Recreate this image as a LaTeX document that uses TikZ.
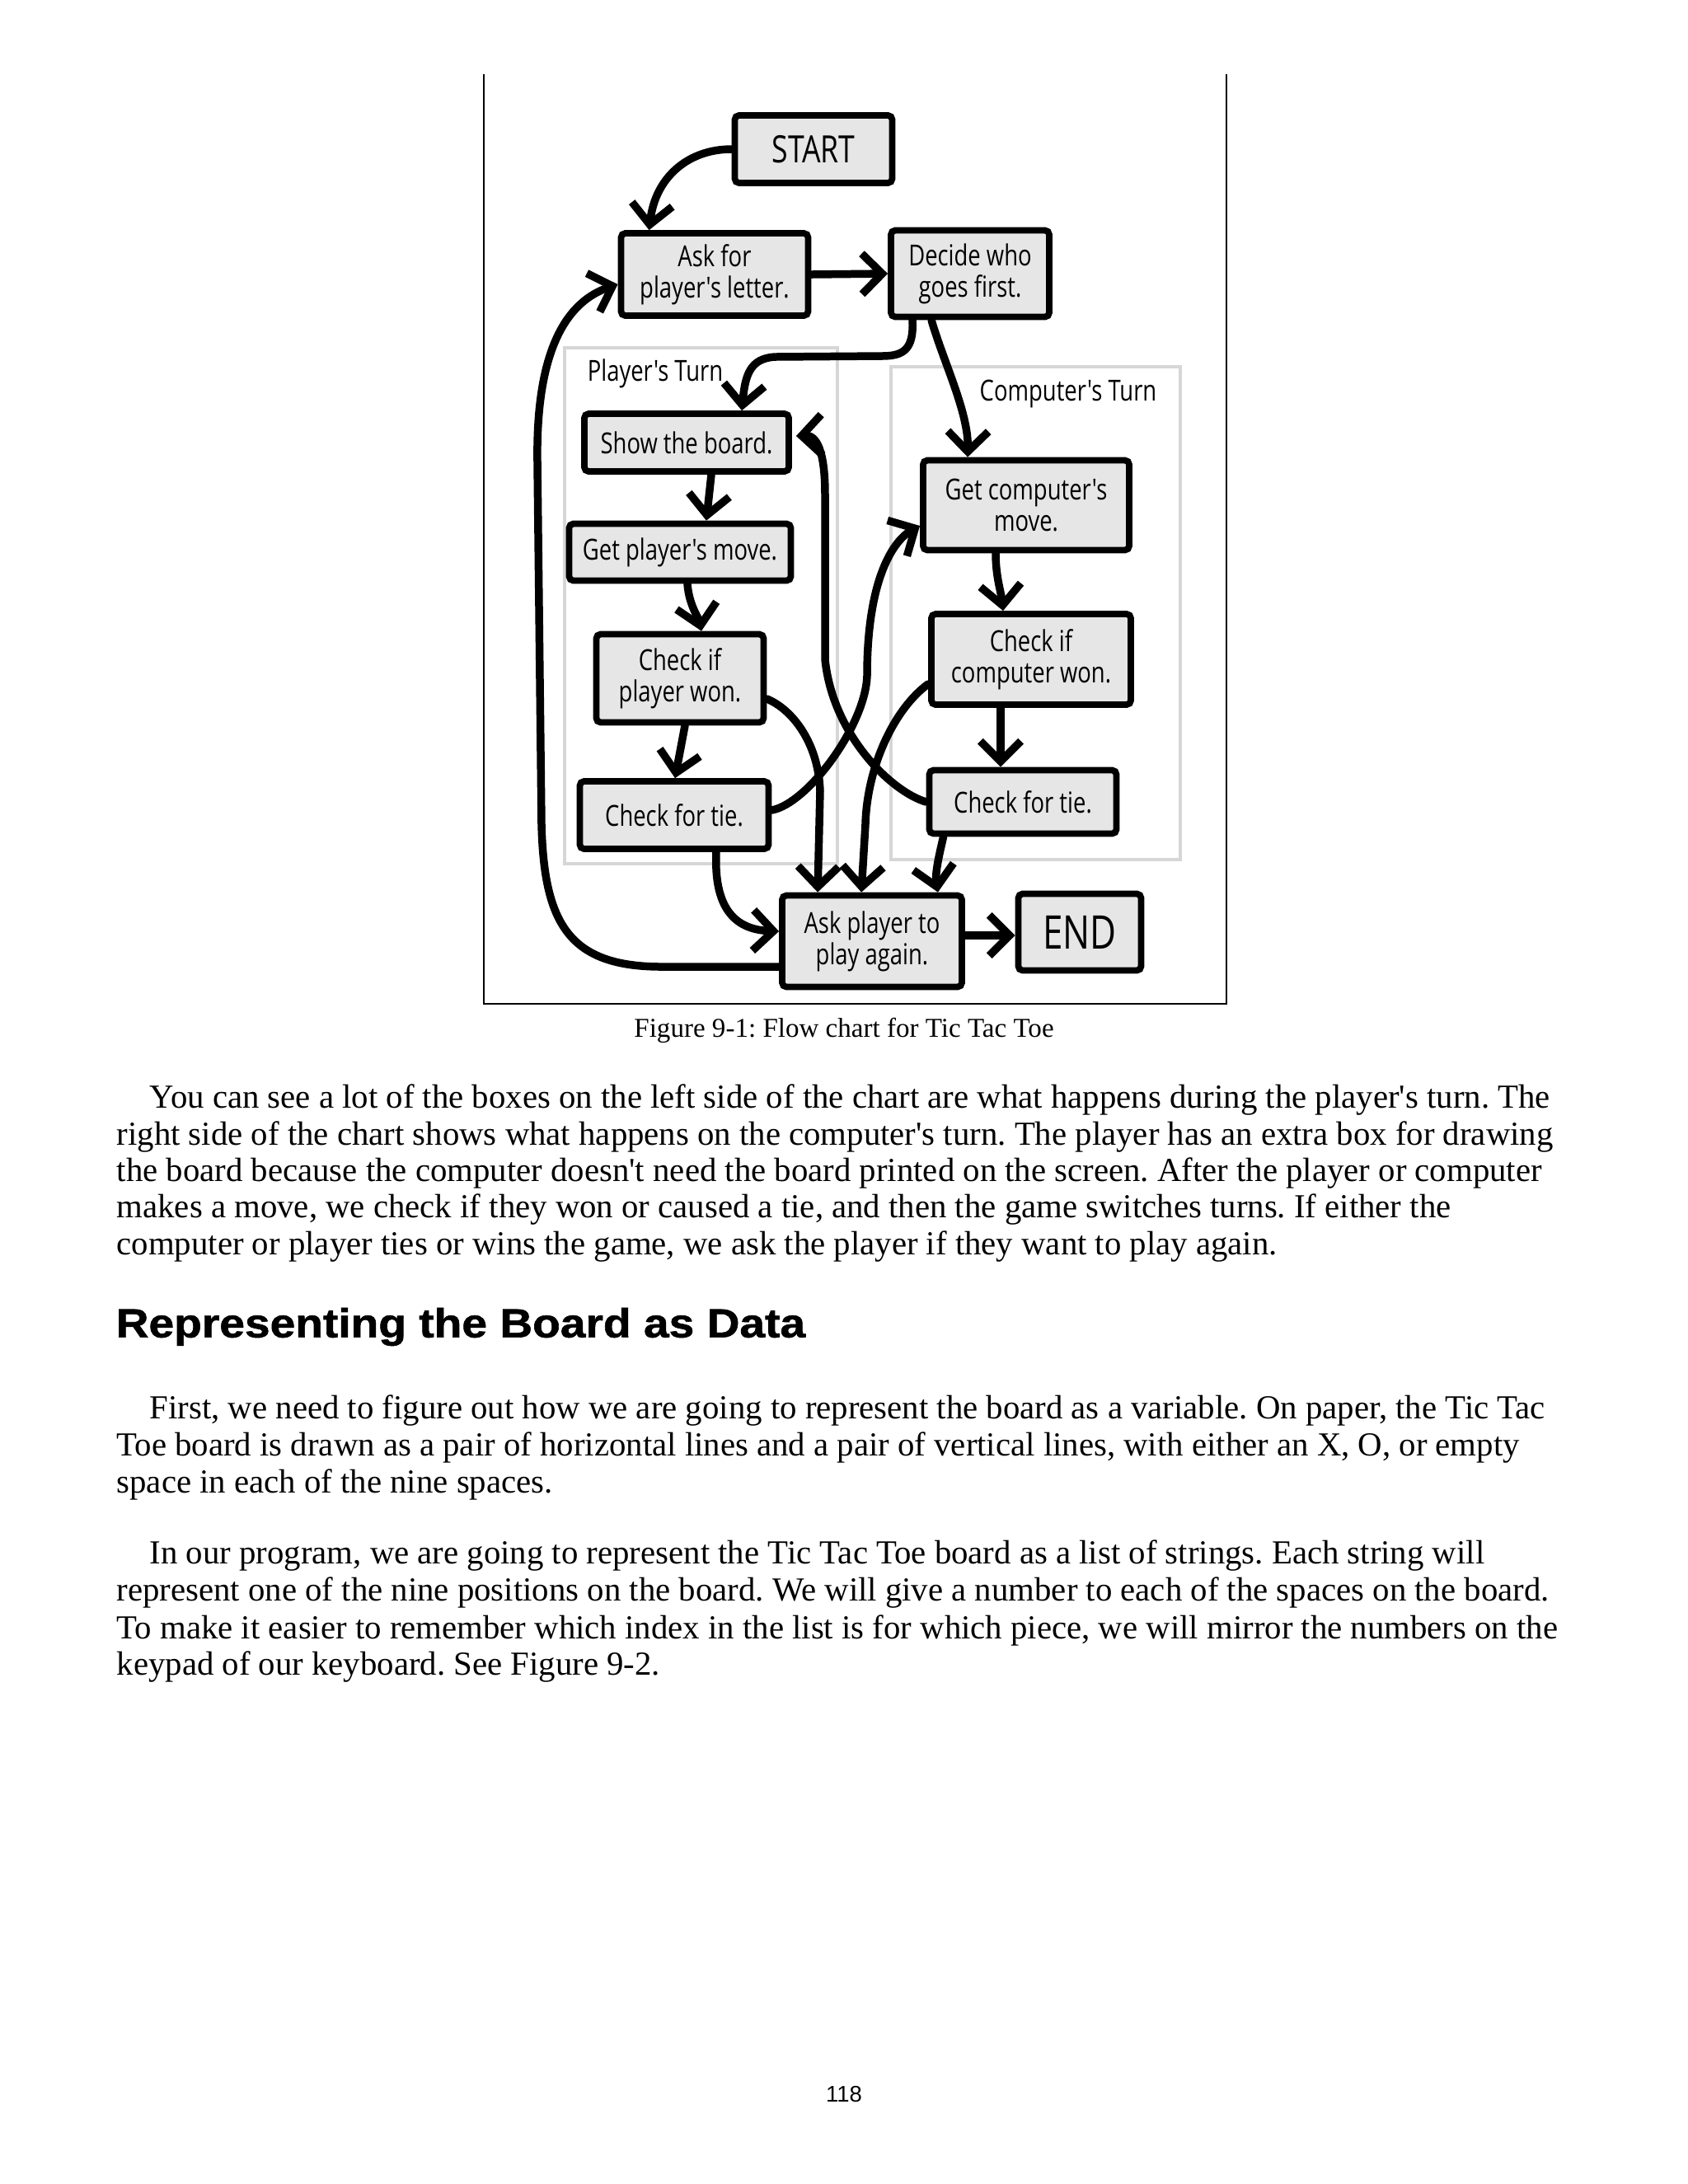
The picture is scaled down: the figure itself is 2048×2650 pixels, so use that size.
\documentclass[tikz,border=0pt]{standalone}
\usepackage{fontspec}
\setmainfont{Liberation Serif}
\newfontfamily\handfont[FakeStretch=0.78]{Open Sans}
\newfontfamily\headfont[FakeStretch=1.12,FakeBold=1.2]{Liberation Sans}
\newfontfamily\numfont{Liberation Sans}
\usetikzlibrary{arrows.meta,calc}
\definecolor{boxgray}{HTML}{E6E6E6}
\definecolor{grpgray}{HTML}{D6D6D6}
\newcommand\ap{\XeTeXglyph\XeTeXglyphindex "quotesingle"\relax}
\frenchspacing
\begin{document}
\begin{tikzpicture}[x=0.01cm,y=-0.01cm,
  box/.style={draw, line width=2.2pt, fill=boxgray, font=\handfont\fontsize{10}{10.8}\selectfont, align=center, inner sep=0pt, rounded corners=1.5pt},
  conn/.style={line width=2.7pt, line cap=round, line join=round, -{Straight Barb[length=7pt,width=14pt]}},
  grp/.style={draw=grpgray, line width=1pt, inner sep=0pt},
  grplabel/.style={font=\handfont\fontsize{10}{11}\selectfont, inner sep=0pt},
  body/.style={anchor=west, inner sep=0pt, font=\fontsize{11.6}{13}\selectfont},
]
\useasboundingbox (0,0) rectangle (2048,2650);
\fill[white] (0,0) rectangle (2048,2650);

% figure frame
\draw[line width=0.7pt] (587,90) -- (587,1218) -- (1488,1218) -- (1488,90);

% groups
\node[grp, minimum width=3.31cm, minimum height=6.26cm] (pgrp) at (850.5,735) {};
\node[grp, minimum width=3.51cm, minimum height=5.98cm] (cgrp) at (1256.5,744) {};
\node[grplabel] (plabel) at (795,453) {Player's Turn};
\node[grplabel] (clabel) at (1296,478) {Computer's Turn};

% boxes
\node[box, minimum width=1.91cm, minimum height=0.82cm, font=\handfont\fontsize{13}{14}\selectfont] (startbox) at (987,181) {START};
\node[box, minimum width=2.27cm, minimum height=1.00cm] (ask) at (867,333) {Ask for\\player's letter.};
\node[box, minimum width=1.92cm, minimum height=1.05cm] (decide) at (1177,332) {Decide who\\goes first.};
\node[box, minimum width=2.48cm, minimum height=0.70cm] (show) at (833,537) {Show the board.};
\node[box, minimum width=2.69cm, minimum height=0.69cm] (getp) at (825,670) {Get player's move.};
\node[box, minimum width=2.03cm, minimum height=1.07cm] (chkp) at (825,823) {Check if\\player won.};
\node[box, minimum width=2.29cm, minimum height=0.82cm] (tiel) at (818,989) {Check for tie.};
\node[box, minimum width=2.50cm, minimum height=1.09cm] (getc) at (1245,613) {Get computer's\\move.};
\node[box, minimum width=2.42cm, minimum height=1.10cm] (chkc) at (1251,800) {Check if\\computer won.};
\node[box, minimum width=2.27cm, minimum height=0.77cm] (tier) at (1241,973) {Check for tie.};
\node[box, minimum width=2.18cm, minimum height=1.11cm] (again) at (1058,1142) {Ask player to\\play again.};
\node[box, minimum width=1.49cm, minimum height=0.93cm, font=\handfont\fontsize{16}{17}\selectfont] (endbox) at (1310,1131) {END};

% connectors
\draw[conn] (startbox.west) .. controls (835,181) and (795,215) .. ($(ask.north west)+(38,0)$);
\draw[conn] (ask.east) -- (decide.west);
\draw[conn] ($(decide.south west)+(30,0)$) .. controls (1109,425) and (1095,432) .. (1070,432) -- (940,433) .. controls (910,435) and (904,455) .. ($(show.north west)+(195,0)$);
\draw[conn] ($(decide.south west)+(53,0)$) .. controls (1145,440) and (1175,500) .. ($(getc.north west)+(58,0)$);
\draw[conn] ($(show.south)+(30,0)$) -- ($(getp.north)+(32,0)$);
\draw[conn] ($(getp.south)+(9,0)$) .. controls (836,735) and (848,750) .. ($(chkp.north)+(26,0)$);
\draw[conn] ($(chkp.south)+(6,0)$) -- ($(tiel.north)+(1,0)$);
\draw[conn] ($(chkp.east)+(0,25)$) .. controls (960,860) and (993,900) .. (995,960) -- ($(again.north west)+(47,0)$);
\draw[conn] ($(tiel.east)+(0,-6)$) .. controls (980,975) and (1050,880) .. (1052,820) .. controls (1052,700) and (1085,655) .. ($(getc.west)+(0,25)$);
\draw[conn] (tier.west) .. controls (1080,960) and (1010,890) .. (1001,800) -- (1001,600) .. controls (1001,545) and (990,528) .. ($(show.east)+(5,-8)$);
\draw[conn] ($(chkc.west)+(0,30)$) .. controls (1085,860) and (1052,930) .. (1050,1000) -- ($(again.north west)+(100,0)$);
\draw[conn] ($(tier.south west)+(21,0)$) .. controls (1140,1035) and (1134,1060) .. ($(again.north east)+(-33,0)$);
\draw[conn] ($(chkc.south)+(-37,0)$) -- ($(tier.north)+(-27,0)$);
\draw[conn] ($(getc.south)+(-37,0)$) .. controls (1208,700) and (1215,720) .. ($(chkc.north)+(-34,0)$);
\draw[conn] ($(tiel.south)+(51,0)$) .. controls (866,1100) and (890,1128) .. ($(again.west)+(0,-12)$);
\draw[conn] ($(again.east)+(0,-7)$) -- ($(again.east -| endbox.west)+(0,-7)$);
\draw[conn] ($(again.west)+(0,31)$) -- (800,1173) .. controls (690,1172) and (660,1120) .. (657,1000) -- (652,560) .. controls (650,420) and (690,365) .. ($(ask.west)+(0,12)$);

% caption
\node[inner sep=0pt, font=\fontsize{9.4}{11}\selectfont] (caption) at (1024,1250) {Figure 9-1: Flow chart for Tic Tac Toe};

% paragraph 1
\node[body] (a1) at (181,1335) {You can see a lot of the boxes on the left side of the chart are what happens during the player\ap s turn. The};
\node[body] (a2) at (141,1380) {right side of the chart shows what happens on the computer\ap s turn. The player has an extra box for drawing};
\node[body] (a3) at (141,1424) {the board because the computer doesn\ap t need the board printed on the screen. After the player or computer};
\node[body] (a4) at (141,1468) {makes a move, we check if they won or caused a tie, and then the game switches turns. If either the};
\node[body] (a5) at (141,1513) {computer or player ties or wins the game, we ask the player if they want to play again.};

% heading
\node[anchor=west, inner sep=0pt, font=\headfont\bfseries\fontsize{14}{16}\selectfont] (head) at (140,1610) {Representing the Board as Data};

% paragraph 2
\node[body] (b1) at (181,1712) {First, we need to figure out how we are going to represent the board as a variable. On paper, the Tic Tac};
\node[body] (b2) at (141,1757) {Toe board is drawn as a pair of horizontal lines and a pair of vertical lines, with either an X, O, or empty};
\node[body] (b3) at (141,1801) {space in each of the nine spaces.};

% paragraph 3
\node[body] (c1) at (181,1888) {In our program, we are going to represent the Tic Tac Toe board as a list of strings. Each string will};
\node[body] (c2) at (141,1933) {represent one of the nine positions on the board. We will give a number to each of the spaces on the board.};
\node[body] (c3) at (141,1978) {To make it easier to remember which index in the list is for which piece, we will mirror the numbers on the};
\node[body] (c4) at (141,2023) {keypad of our keyboard. See Figure 9-2.};

% page number
\node[inner sep=0pt, font=\numfont\fontsize{7.8}{9}\selectfont] (pagenum) at (1024,2541) {118};
\end{tikzpicture}
\end{document}
